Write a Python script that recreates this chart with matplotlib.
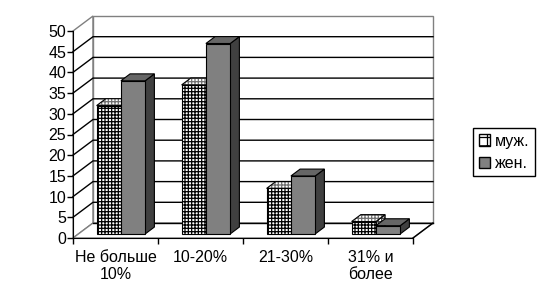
import matplotlib.pyplot as plt
from matplotlib.patches import Polygon, Patch

plt.rcParams['font.family'] = ['Liberation Sans', 'DejaVu Sans']
plt.rcParams['hatch.linewidth'] = 0.9

# data
categories = ['Не больше\n10%', '10-20%', '21-30%', '31% и\nболее']
men = [31, 36, 11, 3]
women = [37, 46, 14, 2]
series_names = ['муж.', 'жен.']

# oblique 3d look (Excel style): depth shift in data units
DX = 20 / 85
DY = 15 / (207 / 50)
F0, F1 = 0.27, 0.73   # bar front/back depth fraction
W = 1 / 3.5           # bar width, gap width 150%
YMAX = 50
FS = 11.5

fig = plt.figure(figsize=(5.44, 3.05), dpi=100)
ax = fig.add_axes([73 / 544, 67 / 305, 340 / 544, 207 / 305])
ax.set_xlim(0, len(categories))
ax.set_ylim(0, YMAX)
ax.patch.set_visible(False)
n = len(categories)

# walls and floor
wall = '#808080'
ax.add_patch(Polygon([(0, 0), (DX, DY), (DX, YMAX + DY), (0, YMAX)],
                     fc='white', ec=wall, lw=1, clip_on=False, zorder=0))
ax.add_patch(Polygon([(DX, DY), (n + DX, DY), (n + DX, YMAX + DY), (DX, YMAX + DY)],
                     fc='white', ec=wall, lw=1, clip_on=False, zorder=0))
ax.add_patch(Polygon([(0, 0), (n, 0), (n + DX, DY), (DX, DY)],
                     fc='white', ec=wall, lw=1, clip_on=False, zorder=0))
for v in range(0, YMAX, 5):
    if v == 0:
        ax.plot([DX, n + DX], [DY, DY], color='black', lw=1, clip_on=False, zorder=1)
    else:
        ax.plot([0, DX, n + DX], [v, v + DY, v + DY], color='black', lw=1,
                clip_on=False, zorder=1)
ax.plot([n, n + DX], [0, DY], color='black', lw=1, clip_on=False, zorder=1)


def face(pts, fc, hatch=None, hatch_color='black'):
    if hatch:
        ax.add_patch(Polygon(pts, fc=fc, ec=hatch_color, lw=0, hatch=hatch,
                             clip_on=False, zorder=3))
        ax.add_patch(Polygon(pts, fill=False, ec='black', lw=0.8,
                             clip_on=False, zorder=3))
    else:
        ax.add_patch(Polygon(pts, fc=fc, ec='black', lw=0.8,
                             clip_on=False, zorder=3))


def bar3d(xl, v, front, top, side, hatch=None, top_hatch=None):
    xr = xl + W
    f0 = (DX * F0, DY * F0)
    f1 = (DX * F1, DY * F1)
    # side
    face([(xr + f0[0], f0[1]), (xr + f1[0], f1[1]),
          (xr + f1[0], v + f1[1]), (xr + f0[0], v + f0[1])], side,
         hatch=hatch, hatch_color='#404040')
    # top
    face([(xl + f0[0], v + f0[1]), (xr + f0[0], v + f0[1]),
          (xr + f1[0], v + f1[1]), (xl + f1[0], v + f1[1])], top,
         hatch=top_hatch, hatch_color='#707070')
    # front
    face([(xl + f0[0], f0[1]), (xr + f0[0], f0[1]),
          (xr + f0[0], v + f0[1]), (xl + f0[0], v + f0[1])], front,
         hatch=hatch)


for i in range(n):
    x0 = i + 0.5 - W
    bar3d(x0, men[i], 'white', 'white', 'white', hatch='+++++', top_hatch='+++++')
    bar3d(x0 + W, women[i], '#808080', '#666666', '#404040')

# axes
for s in ['top', 'right']:
    ax.spines[s].set_visible(False)
ax.spines['left'].set_zorder(5)
ax.spines['bottom'].set_zorder(5)
ax.set_yticks(range(0, YMAX + 1, 5))
ax.tick_params(axis='y', direction='out', length=4, width=1, labelsize=FS, pad=1)
ax.set_xticks(range(0, n + 1))
ax.set_xticklabels([])
ax.set_xticks([i + 0.5 for i in range(n)], minor=True)
ax.set_xticklabels(categories, minor=True, fontsize=FS, linespacing=1.15)
ax.tick_params(axis='x', which='major', direction='out', length=4, width=1)
ax.tick_params(axis='x', which='minor', length=0, pad=9)

handles = [Patch(facecolor='white', edgecolor='black', hatch='++'),
           Patch(facecolor='#808080', edgecolor='black')]
leg = fig.legend(handles, series_names, loc='upper left',
                 bbox_to_anchor=(473 / 544, 1 - 128 / 305), fontsize=FS,
                 frameon=True, fancybox=False, edgecolor='black', framealpha=1,
                 borderaxespad=0, handlelength=0.7, handleheight=0.7,
                 handletextpad=0.3, borderpad=0.35, labelspacing=0.45)
leg.get_frame().set_linewidth(1)

fig.savefig('out.png', dpi=100)
